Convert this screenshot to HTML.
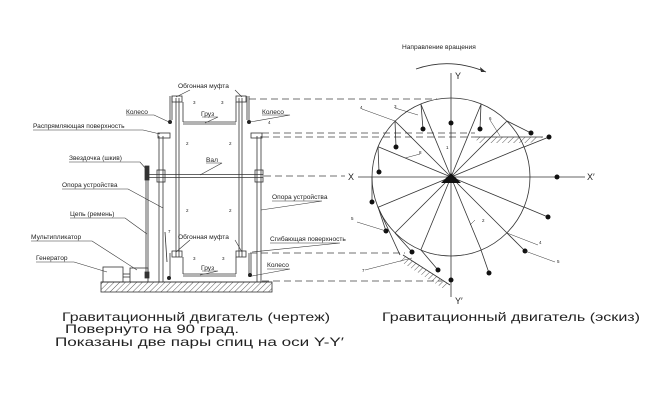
<!DOCTYPE html>
<html><head><meta charset="utf-8"><style>
html,body{margin:0;padding:0;background:#fff;}
svg{display:block;}
text{font-family:"Liberation Sans",sans-serif;fill:#222;}
</style></head><body>
<svg width="653" height="404" viewBox="0 0 653 404" xmlns="http://www.w3.org/2000/svg">
<defs>
<pattern id="h" width="4" height="4" patternUnits="userSpaceOnUse" patternTransform="rotate(45)">
<line x1="0" y1="0" x2="0" y2="4" stroke="#333" stroke-width="0.8"/>
</pattern>
</defs>
<g stroke="#333" stroke-width="0.8" fill="none">
<!-- ground -->
<rect x="101" y="282" width="171" height="10" fill="url(#h)"/>
<line x1="101" y1="282" x2="272" y2="282"/>
<!-- generator & multiplier -->
<rect x="103" y="267" width="20" height="15"/>
<rect x="130" y="268" width="18" height="14"/>
<line x1="123" y1="274" x2="130" y2="274"/><line x1="123" y1="277" x2="130" y2="277"/>
<!-- chain -->
<line x1="146" y1="168" x2="146" y2="278"/><line x1="148" y1="168" x2="148" y2="278"/>
<rect x="145" y="166" width="4" height="14" fill="#333"/>
<rect x="145" y="272" width="4" height="6" fill="#333"/>
<!-- left support -->
<line x1="159" y1="136" x2="159" y2="282"/><line x1="163" y1="136" x2="163" y2="282"/>
<rect x="158" y="133" width="12" height="5"/>
<rect x="157" y="170" width="8" height="12"/>
<!-- right support -->
<line x1="257" y1="136" x2="257" y2="282"/><line x1="261" y1="136" x2="261" y2="282"/>
<rect x="251" y="133" width="11" height="5"/>
<rect x="255" y="170" width="8" height="12"/>
<!-- shaft -->
<line x1="147" y1="174.5" x2="263" y2="174.5"/><line x1="147" y1="177.5" x2="263" y2="177.5"/>
<!-- spokes -->
<line x1="176" y1="98" x2="176" y2="257"/><line x1="179" y1="98" x2="179" y2="257"/>
<line x1="239" y1="98" x2="239" y2="257"/><line x1="242" y1="98" x2="242" y2="257"/>
<!-- top hubs -->
<rect x="172" y="96" width="10" height="6"/><rect x="236" y="96" width="10" height="6"/>
<line x1="170" y1="96" x2="170" y2="120"/><line x1="172" y1="96" x2="172" y2="120"/>
<line x1="247" y1="96" x2="247" y2="120"/><line x1="249" y1="96" x2="249" y2="120"/>
<line x1="183" y1="102" x2="183" y2="122"/><line x1="236" y1="102" x2="236" y2="122"/>
<line x1="183" y1="122" x2="236" y2="122"/><line x1="183" y1="124" x2="236" y2="124"/>
<!-- bottom hubs -->
<rect x="172" y="251" width="10" height="6"/><rect x="236" y="251" width="10" height="6"/>
<line x1="170" y1="253" x2="170" y2="277"/><line x1="249" y1="253" x2="249" y2="277"/><line x1="251" y1="253" x2="251" y2="277"/>
<line x1="183" y1="257" x2="183" y2="274"/><line x1="236" y1="257" x2="236" y2="274"/>
<line x1="183" y1="274" x2="236" y2="274"/><line x1="183" y1="276" x2="236" y2="276"/>
<line x1="165" y1="232" x2="167" y2="262"/>
</g>
<g fill="#222">
<circle cx="170" cy="122" r="2"/><circle cx="249" cy="122" r="2"/>
<circle cx="169" cy="278" r="2"/><circle cx="250" cy="275" r="2"/>
</g>
<!-- dashed links -->
<g stroke="#444" stroke-width="0.8" stroke-dasharray="7,4" fill="none">
<line x1="249" y1="99" x2="437" y2="99"/>
<line x1="262" y1="133" x2="475" y2="133"/>
<line x1="262" y1="137" x2="475" y2="137"/>
<line x1="264" y1="176" x2="345" y2="176"/>
<line x1="250" y1="253" x2="405" y2="253"/>
<line x1="262" y1="281" x2="442" y2="281"/>
</g>
<!-- leaders (left) -->
<g stroke="#333" stroke-width="0.6" fill="none">
<polyline points="33,130 143,130 160,134"/>
<polyline points="69,162 140,162 147,170"/>
<polyline points="62,189 128,189 163,208"/>
<polyline points="70,218 125,218 147,234"/>
<polyline points="31,241 92,241 137,270"/>
<polyline points="36,262 74,262 107,272"/>
<polyline points="126,115 154,115 169,122"/>
<polyline points="262,115 290,115 250,122"/>
<line x1="190" y1="90" x2="176" y2="97"/><line x1="235" y1="90" x2="242" y2="97"/>
<line x1="190" y1="240" x2="176" y2="252"/><line x1="235" y1="240" x2="242" y2="252"/>
<polyline points="202,117 218,117 205,123"/><polyline points="202,271 218,271 200,275"/>
<polyline points="206,163 222,163 200,175"/>
<polyline points="272,201 322,201 261,210"/>
<polyline points="270,243 340,243 252,252"/>
<polyline points="267,269 290,269 252,276"/>
</g>
<g font-size="6.6">
<text x="178" y="88">Обгонная муфта</text>
<text x="126" y="114">Колесо</text>
<text x="262" y="114">Колесо</text>
<text x="201" y="116">Груз</text>
<text x="33" y="128">Распрямляющая поверхность</text>
<text x="69" y="160">Звездочка (шкив)</text>
<text x="206" y="162">Вал</text>
<text x="62" y="187">Опора устройства</text>
<text x="272" y="199">Опора устройства</text>
<text x="70" y="216">Цепь (ремень)</text>
<text x="31" y="239">Мультипликатор</text>
<text x="36" y="260">Генератор</text>
<text x="178" y="239">Обгонная муфта</text>
<text x="270" y="241">Сгибающая поверхность</text>
<text x="201" y="270">Груз</text>
<text x="267" y="267">Колесо</text>
<text x="402" y="49">Направление вращения</text>
</g>
<g font-size="4.5">
<text x="193" y="104">3</text><text x="221" y="104">3</text><text x="268" y="124">4</text>
<text x="186" y="145">2</text><text x="229" y="145">2</text>
<text x="186" y="212">2</text><text x="229" y="212">2</text>
<text x="168" y="233">7</text><text x="193" y="260">3</text><text x="222" y="260">3</text>
</g>
<!-- right sketch -->
<path d="M416,69 Q450,57 486,72" stroke="#333" stroke-width="0.8" fill="none"/>
<path d="M486,72 L480,67 L481,72 Z" fill="#333"/>
<g stroke="#333" stroke-width="0.8" fill="none">
<circle cx="451" cy="177" r="79"/>
<line x1="358" y1="177" x2="585" y2="177"/>
<line x1="451" y1="73" x2="451" y2="297"/>
<g>
<line x1="451" y1="177" x2="481.2" y2="104"/><line x1="451" y1="177" x2="506.9" y2="121.1"/>
<line x1="451" y1="177" x2="524" y2="146.7"/><line x1="451" y1="177" x2="524" y2="207.3"/>
<line x1="451" y1="177" x2="506.9" y2="232.9"/><line x1="451" y1="177" x2="481.2" y2="250"/>
<line x1="451" y1="177" x2="420.8" y2="250"/><line x1="451" y1="177" x2="395.1" y2="232.9"/>
<line x1="451" y1="177" x2="378" y2="207.3"/><line x1="451" y1="177" x2="378" y2="146.7"/>
<line x1="451" y1="177" x2="395.1" y2="121.1"/><line x1="451" y1="177" x2="420.8" y2="104"/>
</g>
<line x1="421" y1="104" x2="423" y2="129"/><line x1="481" y1="104" x2="480" y2="129"/>
<line x1="395" y1="121" x2="396" y2="147"/><line x1="378" y1="147" x2="379" y2="172"/>
<line x1="372" y1="177" x2="372" y2="202"/><line x1="378" y1="207" x2="386" y2="231"/>
<line x1="395" y1="233" x2="412" y2="252"/><line x1="421" y1="250" x2="438" y2="270"/>
<line x1="481" y1="250" x2="489" y2="273"/><line x1="507" y1="233" x2="525" y2="251"/>
<line x1="524" y1="207" x2="548" y2="217"/><line x1="524" y1="147" x2="549" y2="137"/>
<line x1="507" y1="121" x2="531" y2="133"/>
<!-- surfaces -->
<line x1="475" y1="137" x2="543" y2="137"/>
<line x1="403" y1="255" x2="450" y2="285"/>
<line x1="378" y1="207" x2="400" y2="255"/>
</g>
<polygon points="475,137 543,137 530,143 478,143" fill="url(#h)"/>
<polygon points="403,255 450,285 444,289 398,260" fill="url(#h)"/>
<g fill="#111">
<circle cx="423" cy="129" r="2.5"/><circle cx="451" cy="123" r="2.5"/><circle cx="480" cy="129" r="2.5"/>
<circle cx="396" cy="147" r="2.5"/><circle cx="379" cy="172" r="2.5"/><circle cx="372" cy="202" r="2.5"/>
<circle cx="386" cy="231" r="2.5"/><circle cx="412" cy="252" r="2.5"/><circle cx="438" cy="270" r="2.5"/>
<circle cx="451" cy="280" r="2.5"/><circle cx="489" cy="273" r="2.5"/><circle cx="525" cy="251" r="2.5"/>
<circle cx="548" cy="217" r="2.5"/><circle cx="557" cy="177" r="2.5"/><circle cx="549" cy="137" r="2.5"/>
<circle cx="531" cy="133" r="2.5"/>
<path d="M441,183 L451,173 L461,183 Z"/>
</g>
<g stroke="#333" stroke-width="0.5" fill="none">
<line x1="362" y1="109" x2="395" y2="121"/><line x1="395" y1="108" x2="418" y2="115"/>
<line x1="490" y1="120" x2="500" y2="136"/><line x1="420" y1="154" x2="405" y2="158"/>
<line x1="357" y1="222" x2="386" y2="231"/><line x1="365" y1="270" x2="412" y2="258"/>
<line x1="538" y1="245" x2="507" y2="233"/><line x1="555" y1="262" x2="525" y2="251"/>
<line x1="475" y1="220" x2="470" y2="225"/>
</g>
<g font-size="4.5">
<text x="360" y="109">4</text><text x="394" y="108">3</text><text x="489" y="120">6</text>
<text x="419" y="154">8</text><text x="446" y="149">1</text><text x="482" y="222">2</text>
<text x="351" y="220">5</text><text x="362" y="272">7</text><text x="539" y="244">4</text><text x="557" y="263">5</text>
</g>
<g font-size="9">
<text x="348" y="180">X</text><text x="587" y="180">X′</text>
<text x="455" y="79">Y</text><text x="455" y="304">Y′</text>
</g>
<g font-size="12">
<text x="62" y="321" textLength="268" lengthAdjust="spacingAndGlyphs">Гравитационный двигатель (чертеж)</text>
<text x="65" y="333" textLength="174" lengthAdjust="spacingAndGlyphs">Повернуто на 90 град.</text>
<text x="55" y="346" textLength="289" lengthAdjust="spacingAndGlyphs">Показаны две пары спиц на оси Y-Y′</text>
<text x="382" y="321" textLength="258" lengthAdjust="spacingAndGlyphs">Гравитационный двигатель (эскиз)</text>
</g>
</svg>
</body></html>
